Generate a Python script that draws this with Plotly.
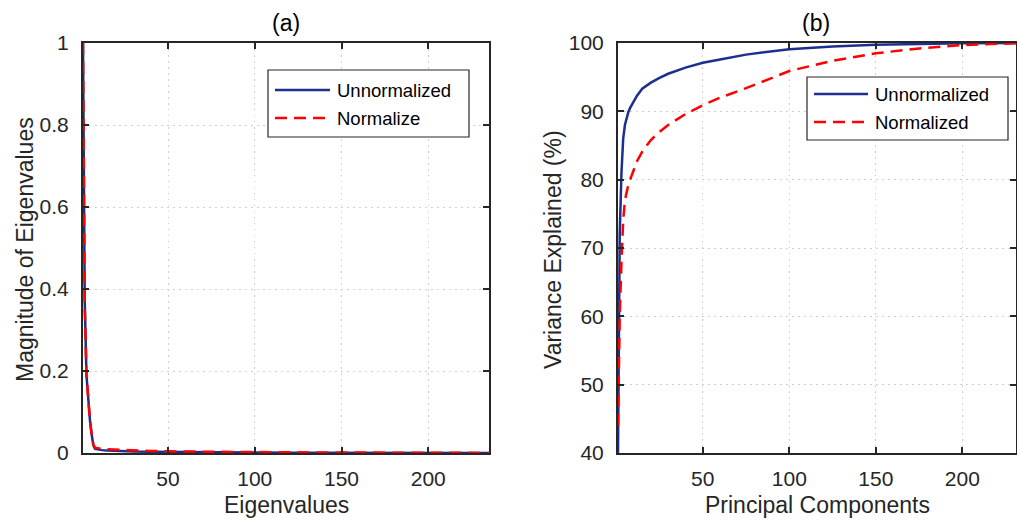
import plotly.graph_objects as go

# ---------------- data ----------------
eig_x = [1, 2, 3, 4, 5, 6, 7, 8, 10, 12, 15, 20, 25, 30, 40, 50, 60, 70, 80,
         100, 120, 150, 180, 210, 235]
eig_unnorm = [1.0, 0.37, 0.19, 0.12, 0.08, 0.045, 0.018, 0.010, 0.008, 0.007,
              0.006, 0.005, 0.004, 0.0035, 0.003, 0.0025, 0.002, 0.0017, 0.0015,
              0.0011, 0.0008, 0.0005, 0.0003, 0.0002, 0.0001]
eig_norm = [1.0, 0.36, 0.19, 0.12, 0.08, 0.045, 0.02, 0.013, 0.011, 0.010,
            0.009, 0.008, 0.007, 0.006, 0.005, 0.004, 0.0035, 0.003, 0.0027,
            0.002, 0.0016, 0.0012, 0.0008, 0.0004, 0.0002]

pc_x = [1, 2, 3, 4, 5, 6, 7, 8, 10, 12, 15, 20, 25, 30, 40, 50, 60, 75, 100,
        125, 150, 175, 200, 231, 235]
var_unnorm = [40, 72, 81, 86, 88.0, 89.0, 89.9, 90.5, 91.5, 92.3, 93.3, 94.2,
              94.9, 95.5, 96.4, 97.1, 97.6, 98.3, 99.1, 99.5, 99.75, 99.88,
              99.95, 100, 100]
var_norm = [44, 60, 68, 74, 77, 78.3, 79.3, 80, 81.5, 82.7, 84.1, 85.8, 87.0,
            88.0, 89.6, 90.9, 92.0, 93.4, 95.9, 97.4, 98.5, 99.2, 99.7, 100, 100]

left_ticks = [0, 0.2, 0.4, 0.6, 0.8, 1]
left_ticktext = ["0", "0.2", "0.4", "0.6", "0.8", "1"]
right_ticks = [40, 50, 60, 70, 80, 90, 100]
x_ticks = [50, 100, 150, 200]

names_a = ["Unnormalized", "Normalize"]
names_b = ["Unnormalized", "Normalized"]

# ---------------- styling ----------------
W, H = 1017, 521
BLUE = "#1c2f8f"
RED = "#ff0000"
AXC = "#262626"
FONT = "Liberation Sans, Arial, Helvetica, sans-serif"
DASH = "12px,7px"


def px(x):
    return x / W


def py(y):
    return 1 - y / H


fig = go.Figure()
fig.add_trace(go.Scatter(x=eig_x, y=eig_unnorm, mode="lines", name=names_a[0],
                         line=dict(color=BLUE, width=2.5), showlegend=False,
                         xaxis="x", yaxis="y"))
fig.add_trace(go.Scatter(x=eig_x, y=eig_norm, mode="lines", name=names_a[1],
                         line=dict(color=RED, width=2.5, dash=DASH), showlegend=False,
                         xaxis="x", yaxis="y"))
fig.add_trace(go.Scatter(x=pc_x, y=var_unnorm, mode="lines", name=names_b[0],
                         line=dict(color=BLUE, width=2.5), showlegend=False,
                         xaxis="x2", yaxis="y2"))
fig.add_trace(go.Scatter(x=pc_x, y=var_norm, mode="lines", name=names_b[1],
                         line=dict(color=RED, width=2.5, dash=DASH), showlegend=False,
                         xaxis="x2", yaxis="y2"))

axis_common = dict(
    showline=True, linecolor=AXC, linewidth=2, mirror="ticks",
    ticks="inside", ticklen=6, tickwidth=1.5, tickcolor=AXC,
    showgrid=True, gridcolor="#cfcfcf", gridwidth=1, griddash="1.5px,4.5px",
    zeroline=False, automargin=False,
    tickfont=dict(family=FONT, size=21, color=AXC),
)

ydom = [py(453), py(43)]
fig.update_layout(
    template="none",
    width=W, height=H,
    margin=dict(l=0, r=0, t=0, b=0, pad=0, autoexpand=False),
    paper_bgcolor="white", plot_bgcolor="white",
    font=dict(family=FONT, color=AXC),
    showlegend=False,
    xaxis=dict(domain=[px(83), px(489)], range=[1, 235], tickvals=x_ticks,
               anchor="y", ticklabelstandoff=6, **axis_common),
    yaxis=dict(domain=ydom, range=[0, 1], tickvals=left_ticks,
               ticktext=left_ticktext, anchor="x", ticklabelstandoff=8, **axis_common),
    xaxis2=dict(domain=[px(618), px(1016)], range=[1, 231], tickvals=x_ticks,
                anchor="y2", ticklabelstandoff=6, **axis_common),
    yaxis2=dict(domain=ydom, range=[40, 100], tickvals=right_ticks,
                anchor="x2", ticklabelstandoff=8, **axis_common),
)

annos = []
# titles
annos.append(dict(text="(a)", x=px(286), y=py(23), xref="paper", yref="paper",
                  showarrow=False, xanchor="center", yanchor="middle",
                  font=dict(family=FONT, size=23, color="black")))
annos.append(dict(text="(b)", x=px(816), y=py(23), xref="paper", yref="paper",
                  showarrow=False, xanchor="center", yanchor="middle",
                  font=dict(family=FONT, size=23, color="black")))
# axis titles
annos.append(dict(text="Eigenvalues", x=px(286), y=py(505), xref="paper", yref="paper",
                  showarrow=False, xanchor="center", yanchor="middle",
                  font=dict(family=FONT, size=23, color=AXC)))
annos.append(dict(text="Principal Components", x=px(817), y=py(505), xref="paper",
                  yref="paper", showarrow=False, xanchor="center", yanchor="middle",
                  font=dict(family=FONT, size=23, color=AXC)))
annos.append(dict(text="Magnitude of Eigenvalues", x=px(25), y=py(250), xref="paper",
                  yref="paper", showarrow=False, xanchor="center", yanchor="middle",
                  textangle=-90, font=dict(family=FONT, size=23, color=AXC)))
annos.append(dict(text="Variance Explained (%)", x=px(553), y=py(250), xref="paper",
                  yref="paper", showarrow=False, xanchor="center", yanchor="middle",
                  textangle=-90, font=dict(family=FONT, size=23, color=AXC)))

shapes = []


def add_legend(box, y1, y2, lx0, lx1, tx, labels):
    x0, yb0, x1, yb1 = box
    shapes.append(dict(type="rect", xref="paper", yref="paper",
                       x0=px(x0), x1=px(x1), y0=py(yb1), y1=py(yb0),
                       line=dict(color="#262626", width=1.2), fillcolor="white"))
    shapes.append(dict(type="line", xref="paper", yref="paper",
                       x0=px(lx0), x1=px(lx1), y0=py(y1), y1=py(y1),
                       line=dict(color=BLUE, width=2.5)))
    shapes.append(dict(type="line", xref="paper", yref="paper",
                       x0=px(lx0), x1=px(lx1), y0=py(y2), y1=py(y2),
                       line=dict(color=RED, width=2.5, dash=DASH)))
    for yy, lab in zip([y1, y2], labels):
        annos.append(dict(text=lab, x=px(tx), y=py(yy), xref="paper", yref="paper",
                          showarrow=False, xanchor="left", yanchor="middle",
                          font=dict(family=FONT, size=18.5, color="black")))


add_legend((268, 70, 469, 137), 90, 118, 275, 330, 335, names_a)
add_legend((807, 77, 1008, 140), 94, 122, 814, 868, 873, names_b)

fig.update_layout(annotations=annos, shapes=shapes)
fig.write_html("out.html",
               config={"displayModeBar": False},
               post_script="document.body.style.margin='0';"
                           "document.body.style.overflow='hidden';")
